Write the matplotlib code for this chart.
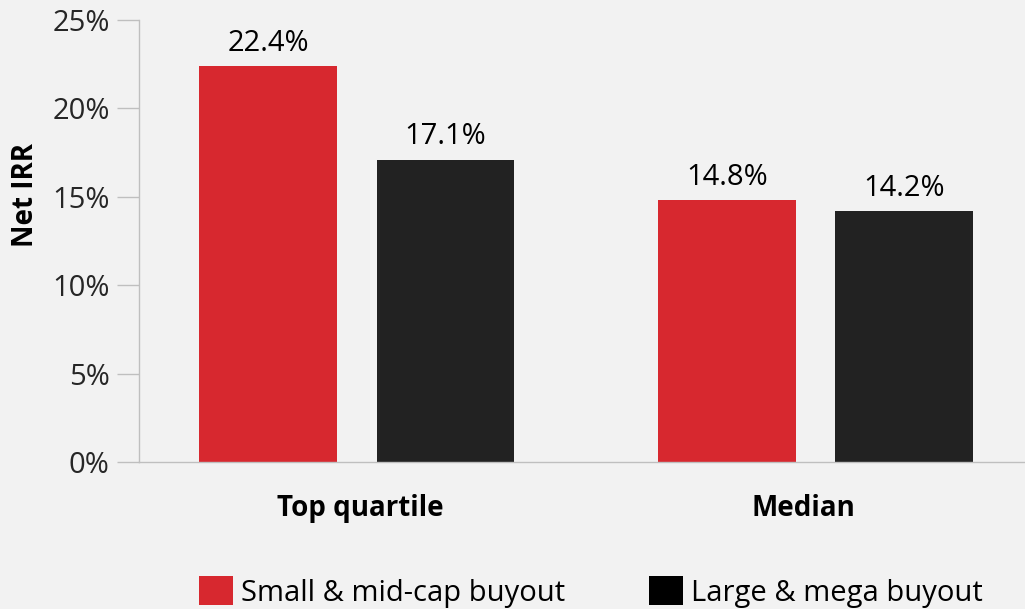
import matplotlib
matplotlib.use('Agg')
import matplotlib.pyplot as plt
from matplotlib.patches import Patch
from matplotlib.ticker import FuncFormatter

# values
categories = ["Top quartile", "Median"]
series_names = ["Small & mid-cap buyout", "Large & mega buyout"]
small_mid = [22.4, 14.8]
large_mega = [17.1, 14.2]
y_ticks = [0, 5, 10, 15, 20, 25]

RED = "#d7282f"
DARK = "#222222"
BG = "#f2f2f2"
GRID = "#bfbfbf"

plt.rcParams['font.family'] = ['Open Sans', 'DejaVu Sans']

fig = plt.figure(figsize=(10.25, 6.09), dpi=100, facecolor=BG)
ax = fig.add_axes([139 / 1025, 147 / 609, 1 - 139 / 1025, 442 / 609])
ax.set_facecolor(BG)

width = 0.311
offset = 0.2
group_shift = [-0.008, 0.027]  # bars sit a little off the category centre
xs = range(len(categories))
bars_a = ax.bar([x + g - offset for x, g in zip(xs, group_shift)], small_mid, width, color=RED)
bars_b = ax.bar([x + g + offset for x, g in zip(xs, group_shift)], large_mega, width, color=DARK)

for bars in (bars_a, bars_b):
    for b in bars:
        ax.annotate(f"{b.get_height():.1f}%", (b.get_x() + b.get_width() / 2, b.get_height()),
                    xytext=(0, 6), textcoords='offset points', ha='center', va='bottom',
                    fontsize=21, color='black')

ax.set_xlim(-0.5, 1.5)
ax.set_ylim(0, 25)
ax.set_yticks(y_ticks)
ax.yaxis.set_major_formatter(FuncFormatter(lambda v, p: f"{v:.0f}%"))
ax.set_xticks(list(xs))
ax.set_xticklabels(categories, fontsize=20, fontweight='bold')

ax.tick_params(axis='y', length=16, width=1, color=GRID, labelsize=21, labelcolor='#262626', pad=5)
ax.tick_params(axis='x', length=0, pad=23)

for s in ('top', 'right'):
    ax.spines[s].set_visible(False)
for s in ('left', 'bottom'):
    ax.spines[s].set_color(GRID)
    ax.spines[s].set_linewidth(1)

ax.set_ylabel("Net IRR", fontsize=20, fontweight='bold')
ax.yaxis.set_label_coords(-0.112, 0.604)

handles = [Patch(facecolor=RED), Patch(facecolor='black')]
fig.legend(handles, series_names, loc='upper left', bbox_to_anchor=(199 / 1025, 1 - 576 / 609),
           ncol=2, frameon=False, fontsize=21, borderpad=0, handlelength=1.17, handleheight=1.17,
           handletextpad=0.27, columnspacing=2.88, borderaxespad=0)

fig.savefig("out.png", dpi=100, facecolor=BG)
